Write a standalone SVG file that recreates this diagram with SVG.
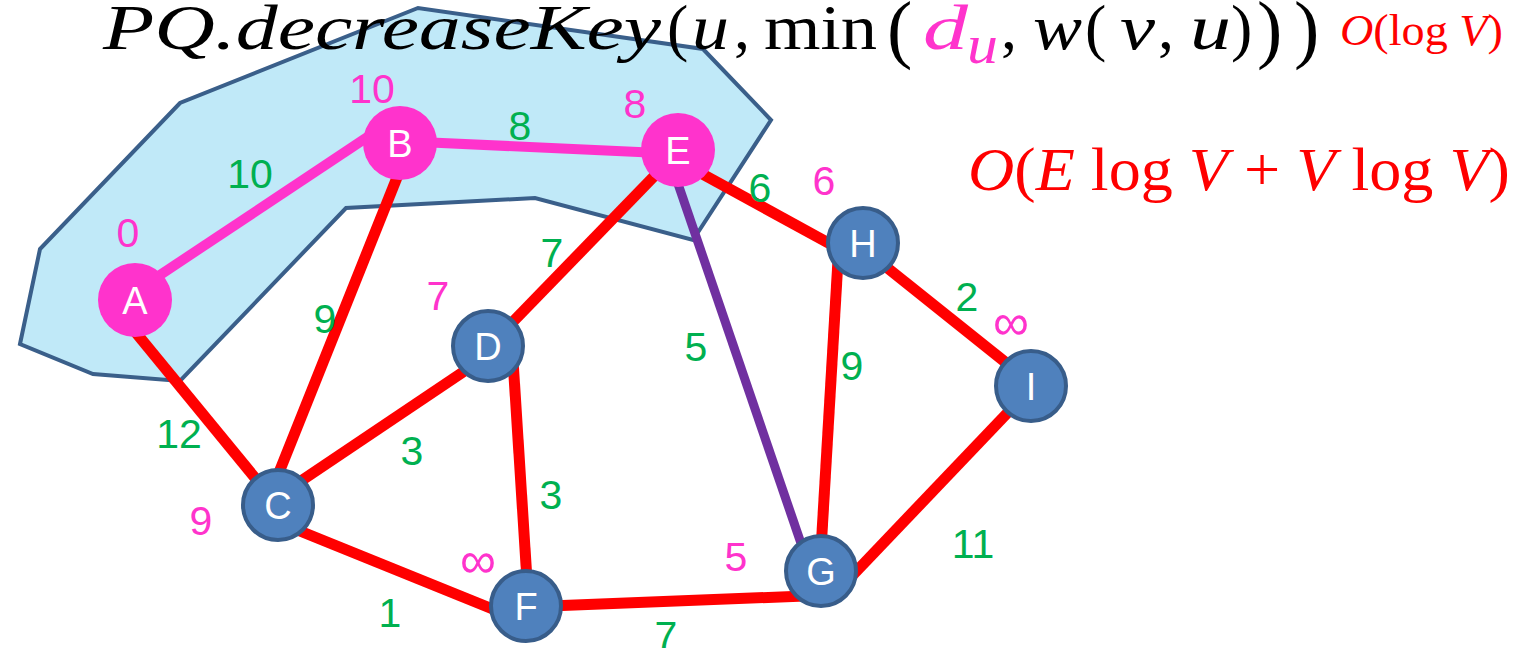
<svg xmlns="http://www.w3.org/2000/svg" width="1524" height="648" viewBox="0 0 1524 648">
<style>
.edge{stroke-width:11;stroke-linecap:butt;fill:none}
.red{stroke:#FF0000}
.mag{stroke:#FF33CC;stroke-width:10}
.pur{stroke:#7030A0;stroke-width:9}
.nb{fill:#4F81BD;stroke:#385D8A;stroke-width:4}
.nm{fill:#FF33CC}
.nl{font-family:"Liberation Sans",Arial,sans-serif;font-size:38px;fill:#FFFFFF;text-anchor:middle}
.w{font-family:"Liberation Sans",Arial,sans-serif;font-size:41px;fill:#00B050;text-anchor:middle}
.d{font-family:"Liberation Sans",Arial,sans-serif;font-size:41px;fill:#FF33CC;text-anchor:middle}
.m{font-family:"Liberation Serif","Times New Roman",serif;font-size:64px;fill:#000000}
.bp{font-size:76px}
.i{font-style:italic}
.o{font-family:"Liberation Serif","Times New Roman",serif;fill:#FF0000}
</style>
<rect width="1524" height="648" fill="#FFFFFF"/>
<polygon id="region" points="20,344 40,249 180,103 418,8 703,49 771,120 693,240 535,198 346,208 180,381 93,374" fill="#C0E9F8" stroke="#3A5F8A" stroke-width="4" stroke-linejoin="miter"/>
<g id="connectors">
<line class="edge mag" x1="145" y1="285" x2="378" y2="130"/>
<line class="edge mag" x1="420" y1="142" x2="660" y2="153"/>
<line class="edge red" x1="128" y1="323" x2="265" y2="490"/>
<line class="edge red" x1="400" y1="170" x2="276" y2="480"/>
<line class="edge red" x1="292" y1="487" x2="472" y2="366"/>
<line class="edge red" x1="290" y1="527" x2="500" y2="612"/>
<line class="edge red" x1="513" y1="360" x2="527" y2="580"/>
<line class="edge red" x1="505" y1="330" x2="665" y2="165"/>
<line class="edge red" x1="550" y1="606" x2="805" y2="596"/>
<line class="edge red" x1="695" y1="170" x2="845" y2="252"/>
<line class="edge red" x1="838" y1="260" x2="821" y2="550"/>
<line class="edge red" x1="880" y1="262" x2="1015" y2="370"/>
<line class="edge red" x1="1015" y1="405" x2="850" y2="578"/>
<line class="edge pur" x1="675" y1="175" x2="805" y2="555"/>
</g>
<g id="node-A"><circle class="nm" cx="135" cy="300" r="37"/><text class="nl" x="135" y="314">A</text></g>
<g id="node-B"><circle class="nm" cx="400" cy="143" r="37"/><text class="nl" x="400" y="157">B</text></g>
<g id="node-E"><circle class="nm" cx="678" cy="150" r="37"/><text class="nl" x="678" y="164">E</text></g>
<g id="node-D"><circle class="nb" cx="488" cy="346" r="35"/><text class="nl" x="488" y="360">D</text></g>
<g id="node-C"><circle class="nb" cx="278" cy="505" r="35"/><text class="nl" x="278" y="519">C</text></g>
<g id="node-F"><circle class="nb" cx="526" cy="606" r="35"/><text class="nl" x="526" y="620">F</text></g>
<g id="node-G"><circle class="nb" cx="821" cy="571" r="35"/><text class="nl" x="821" y="585">G</text></g>
<g id="node-H"><circle class="nb" cx="863" cy="243" r="35"/><text class="nl" x="863" y="257">H</text></g>
<g id="node-I"><circle class="nb" cx="1031" cy="386" r="35"/><text class="nl" x="1031" y="400">I</text></g>
<g id="weights">
<text class="w" x="250" y="188">10</text>
<text class="w" x="520" y="140">8</text>
<text class="w" x="760" y="202">6</text>
<text class="w" x="552" y="267">7</text>
<text class="w" x="325" y="333">9</text>
<text class="w" x="696" y="361">5</text>
<text class="w" x="852" y="380">9</text>
<text class="w" x="967" y="311">2</text>
<text class="w" x="179" y="448">12</text>
<text class="w" x="412" y="465">3</text>
<text class="w" x="551" y="509">3</text>
<text class="w" x="973" y="558">11</text>
<text class="w" x="390" y="627">1</text>
<text class="w" x="666" y="650">7</text>
</g>
<g id="distances">
<text class="d" x="372" y="103">10</text>
<text class="d" x="635" y="118">8</text>
<text class="d" x="128" y="247">0</text>
<text class="d" x="438" y="310">7</text>
<text class="d" x="824" y="195">6</text>
<text class="d" x="201" y="535">9</text>
<text class="d" x="736" y="571">5</text>
<text class="d" x="460" y="578" style="font-size:52px;text-anchor:start" textLength="36" lengthAdjust="spacingAndGlyphs">∞</text>
<text class="d" x="993" y="340" style="font-size:52px;text-anchor:start" textLength="36" lengthAdjust="spacingAndGlyphs">∞</text>
</g>
<g id="formula">
<text class="m i" x="103" y="49" textLength="558" lengthAdjust="spacingAndGlyphs">PQ.decreaseKey</text>
<text class="m" x="667" y="49">(</text>
<text class="m i" x="692" y="49" textLength="37" lengthAdjust="spacingAndGlyphs">u</text>
<text class="m" x="734" y="49">,</text>
<text class="m" x="764" y="49" textLength="113" lengthAdjust="spacingAndGlyphs">min</text>
<text class="m bp" x="887" y="54">(</text>
<text class="m i" x="923" y="49" textLength="45" lengthAdjust="spacingAndGlyphs" style="fill:#FF33CC">d</text>
<text class="m i" x="967" y="63" textLength="31" lengthAdjust="spacingAndGlyphs" style="fill:#FF33CC;font-size:54px">u</text>
<text class="m" x="1001" y="49">,</text>
<text class="m i" x="1033" y="49" textLength="49" lengthAdjust="spacingAndGlyphs">w</text>
<text class="m" x="1085" y="49">(</text>
<text class="m i" x="1120" y="49" textLength="35" lengthAdjust="spacingAndGlyphs">v</text>
<text class="m" x="1158" y="49">,</text>
<text class="m i" x="1190" y="49" textLength="41" lengthAdjust="spacingAndGlyphs">u</text>
<text class="m" x="1231" y="49">)</text>
<text class="m bp" x="1257" y="54">)</text>
<text class="m bp" x="1294" y="54">)</text>
</g>
<text id="cost-op" class="o" x="1340" y="45" style="font-size:44px" textLength="163" lengthAdjust="spacingAndGlyphs"><tspan font-style="italic">O</tspan>(log <tspan font-style="italic">V</tspan>)</text>
<text id="cost-total" class="o" x="968" y="190" style="font-size:62px" textLength="542" lengthAdjust="spacingAndGlyphs"><tspan font-style="italic">O</tspan>(<tspan font-style="italic">E</tspan> log <tspan font-style="italic">V</tspan> + <tspan font-style="italic">V</tspan> log <tspan font-style="italic">V</tspan>)</text>
</svg>
